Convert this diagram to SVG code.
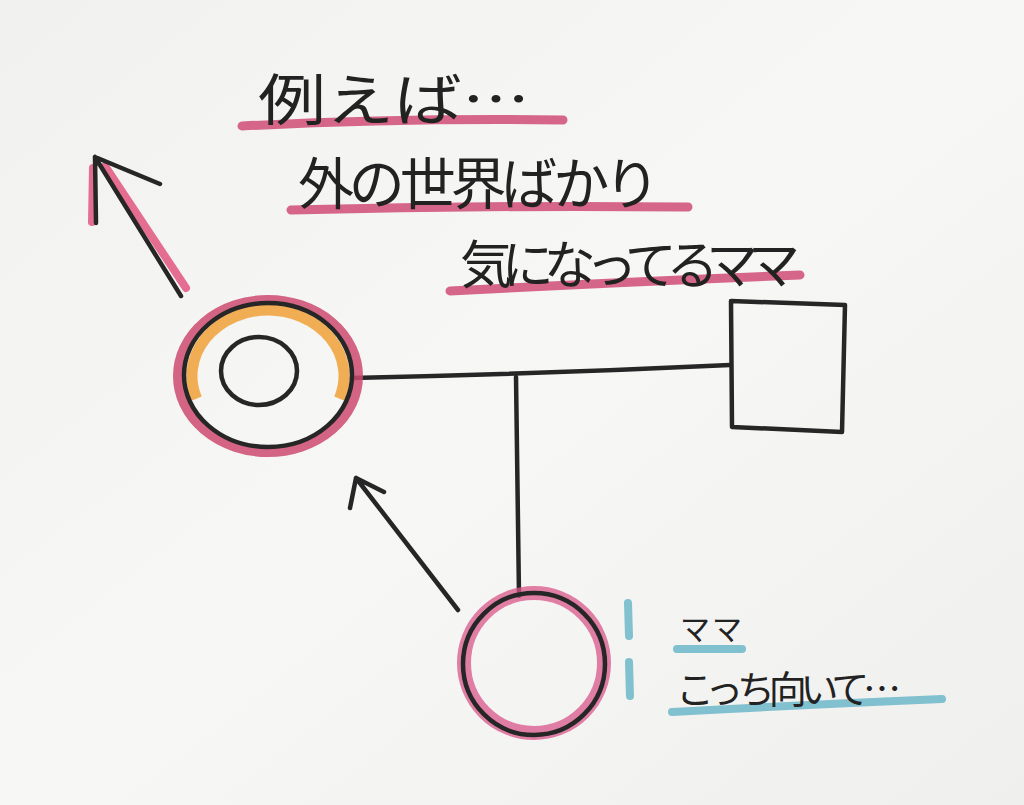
<svg xmlns="http://www.w3.org/2000/svg" width="1024" height="805" viewBox="0 0 1024 805">
<defs>
<linearGradient id="bg" x1="0" y1="0" x2="1" y2="1">
<stop offset="0" stop-color="#f1f1ef"/>
<stop offset="0.5" stop-color="#f7f7f6"/>
<stop offset="1" stop-color="#efefed"/>
</linearGradient>
<style>
.ink{fill:none;stroke:#262626;stroke-width:4.5;stroke-linecap:round;stroke-linejoin:round}
.pinkline{fill:none;stroke:#d04c75;stroke-width:9;stroke-linecap:round;opacity:0.85}
.blueline{fill:none;stroke:#6cb7c9;stroke-width:8;stroke-linecap:round;opacity:0.85}
.t{font-family:"Noto Sans CJK JP","Noto Sans",sans-serif;fill:#222;font-weight:400}
</style>
</defs>
<rect width="1024" height="805" fill="url(#bg)"/>

<g id="labels-top">
<path class="pinkline" d="M242 126 Q400 118 563 120"/>
<path class="pinkline" d="M291 210 Q490 205 688 207"/>
<path class="pinkline" d="M450 291 Q620 282 800 275"/>
<text class="t" x="258" y="120" font-size="56" textLength="272" lengthAdjust="spacingAndGlyphs">例えば…</text>
<text class="t" x="298" y="204" font-size="56" textLength="362" lengthAdjust="spacing">外の世界ばかり</text>
<text class="t" x="460" y="284" font-size="52" textLength="340" lengthAdjust="spacing">気になってるママ</text>
</g>

<g id="arrow-red">
<path d="M186 288 L105 166 M93 168 L92 222" fill="none" stroke="#e0557f" stroke-width="8" stroke-linecap="round" opacity="0.85"/>
<path class="ink" d="M181 296 L95 157 M95 157 L160 184 M95 157 L96 223" stroke-width="3.5"/>
</g>

<g id="connectors">
<path class="ink" d="M352 378 Q540 374 730 365"/>
<path class="ink" d="M516 377 L519 596"/>
<path class="ink" d="M458 610 L356 478 M356 478 L350 508 M356 478 L384 492"/>
</g>

<g id="mother">
<ellipse cx="268" cy="376" rx="90" ry="76" fill="none" stroke="#cc4a70" stroke-width="10" opacity="0.85"/>
<path d="M196.6 398.6 A76 66 0 1 1 339.4 398.6" fill="none" stroke="#f0a542" stroke-width="11" opacity="0.9"/>
<ellipse cx="268" cy="375" rx="84" ry="72" fill="none" stroke="#262626" stroke-width="4.5"/>
<ellipse cx="259" cy="371" rx="38" ry="34" fill="none" stroke="#262626" stroke-width="4.5"/>
</g>

<g id="father">
<path class="ink" d="M731 301 L845 305 L842 432 L732 427 Z"/>
</g>

<g id="child">
<circle cx="534" cy="663" r="70" fill="none" stroke="#d9568a" stroke-width="14" opacity="0.75"/>
<circle cx="534" cy="664" r="71" fill="none" stroke="#262626" stroke-width="4.5"/>
</g>

<g id="labels-child">
<path class="blueline" d="M628 603 L629 636 M629 662 L630 696"/>
<path class="blueline" d="M677 649 L742 649"/>
<path class="blueline" d="M672 712 Q800 705 942 699"/>
<text class="t" x="680" y="640" font-size="30" textLength="62" lengthAdjust="spacing">ママ</text>
<text class="t" x="676" y="703" font-size="38" textLength="225" lengthAdjust="spacing">こっち向いて…</text>
</g>
</svg>
